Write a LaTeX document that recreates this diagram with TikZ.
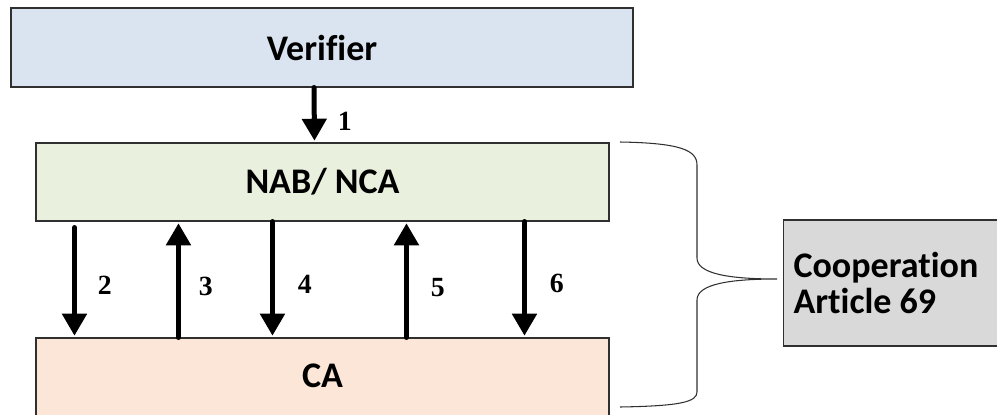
\documentclass[tikz,border=0pt]{standalone}
\usepackage{fontspec}
\usepackage{tikz}
\usetikzlibrary{arrows.meta}
\newfontfamily\boxfont{Carlito}[Ligatures={NoCommon,NoContextual}]
\newfontfamily\numfont{Liberation Serif}
\definecolor{verblue}{HTML}{DAE3F0}
\definecolor{nabgreen}{HTML}{E9F0DD}
\definecolor{caorange}{HTML}{FBE6D7}
\definecolor{coopgray}{HTML}{D9D9D9}
\definecolor{edgegray}{HTML}{303030}

\tikzset{
  box/.style={draw=edgegray, line width=0.6pt, inner sep=0pt,
    font=\boxfont\bfseries\fontsize{20.5}{20}\selectfont},
  flow/.style={line width=0.1cm, line cap=round,
    -{Triangle[width=0.48cm,length=0.44cm]}, shorten >=1pt},
  num/.style={font=\numfont\bfseries\fontsize{15.8}{16}\selectfont,
    anchor=west, inner sep=0pt}
}

\begin{document}
\begin{tikzpicture}
\newcommand{\w}{11.46}

\useasboundingbox (0,0) rectangle (19.94,-8.28);

% The three stacked boxes
\node[box, fill=verblue, minimum width=12.44cm, minimum height=1.58cm] (verifier) at (6.44,-0.95) {Verifier};
\node[box, fill=nabgreen, minimum width=\w cm, minimum height=1.56cm] (nab) at (6.45,-3.64) {NAB/ NCA};
\node[box, fill=caorange, minimum width=\w cm, minimum height=1.6cm] (ca) at (6.45,-7.56) {\raisebox{0.1cm}{CA}};

% The box on the right
\node[box, fill=coopgray, anchor=west, minimum width=4.64cm, minimum height=2.52cm,
  align=left, text width=4.24cm, inner xsep=0.2cm] (coop) at (15.66,-5.66)
  {\spaceskip=0pt Cooperation\\\spaceskip=0pt Article 69};

% Arrow from the verifier
\draw[flow] ([xshift=-0.16cm]verifier.south) -- ([xshift=-0.16cm]nab.north)
  node[num, pos=0.62, xshift=0.42cm] {1};

% Arrows between NAB/ NCA and CA
\draw[flow] ([xshift=0.78cm,yshift=-0.12cm]nab.south west) -- ([xshift=0.78cm]ca.north west)
  node[num, pos=0.53, xshift=0.42cm] {2};
\draw[flow] ([xshift=2.86cm]ca.north west) -- ([xshift=2.86cm]nab.south west)
  node[num, pos=0.44, xshift=0.36cm] {3};
\draw[flow] ([xshift=4.74cm]nab.south west) -- ([xshift=4.74cm]ca.north west)
  node[num, pos=0.54, xshift=0.46cm] {4};
\draw[flow] ([xshift=7.42cm]ca.north west) -- ([xshift=7.42cm]nab.south west)
  node[num, pos=0.43, xshift=0.44cm] {5};
\draw[flow] ([xshift=9.78cm]nab.south west) -- ([xshift=9.78cm]ca.north west)
  node[num, pos=0.53, xshift=0.46cm] {6};

% Brace joining both lower boxes to the cooperation box
\coordinate (tip) at (15.54,-5.58);
\draw[edgegray, line width=0.6pt] (12.4,-2.84) .. controls (13.6,-2.86) and (13.94,-3.0) .. (13.94,-3.3)
  -- (13.94,-5.16) .. controls (13.94,-5.48) and (14.6,-5.58) .. (tip)
  .. controls (14.6,-5.58) and (13.94,-5.68) .. (13.94,-6.0)
  -- (13.94,-7.84) .. controls (13.94,-8.04) and (13.6,-8.12) .. (12.4,-8.14);

\end{tikzpicture}
\end{document}
